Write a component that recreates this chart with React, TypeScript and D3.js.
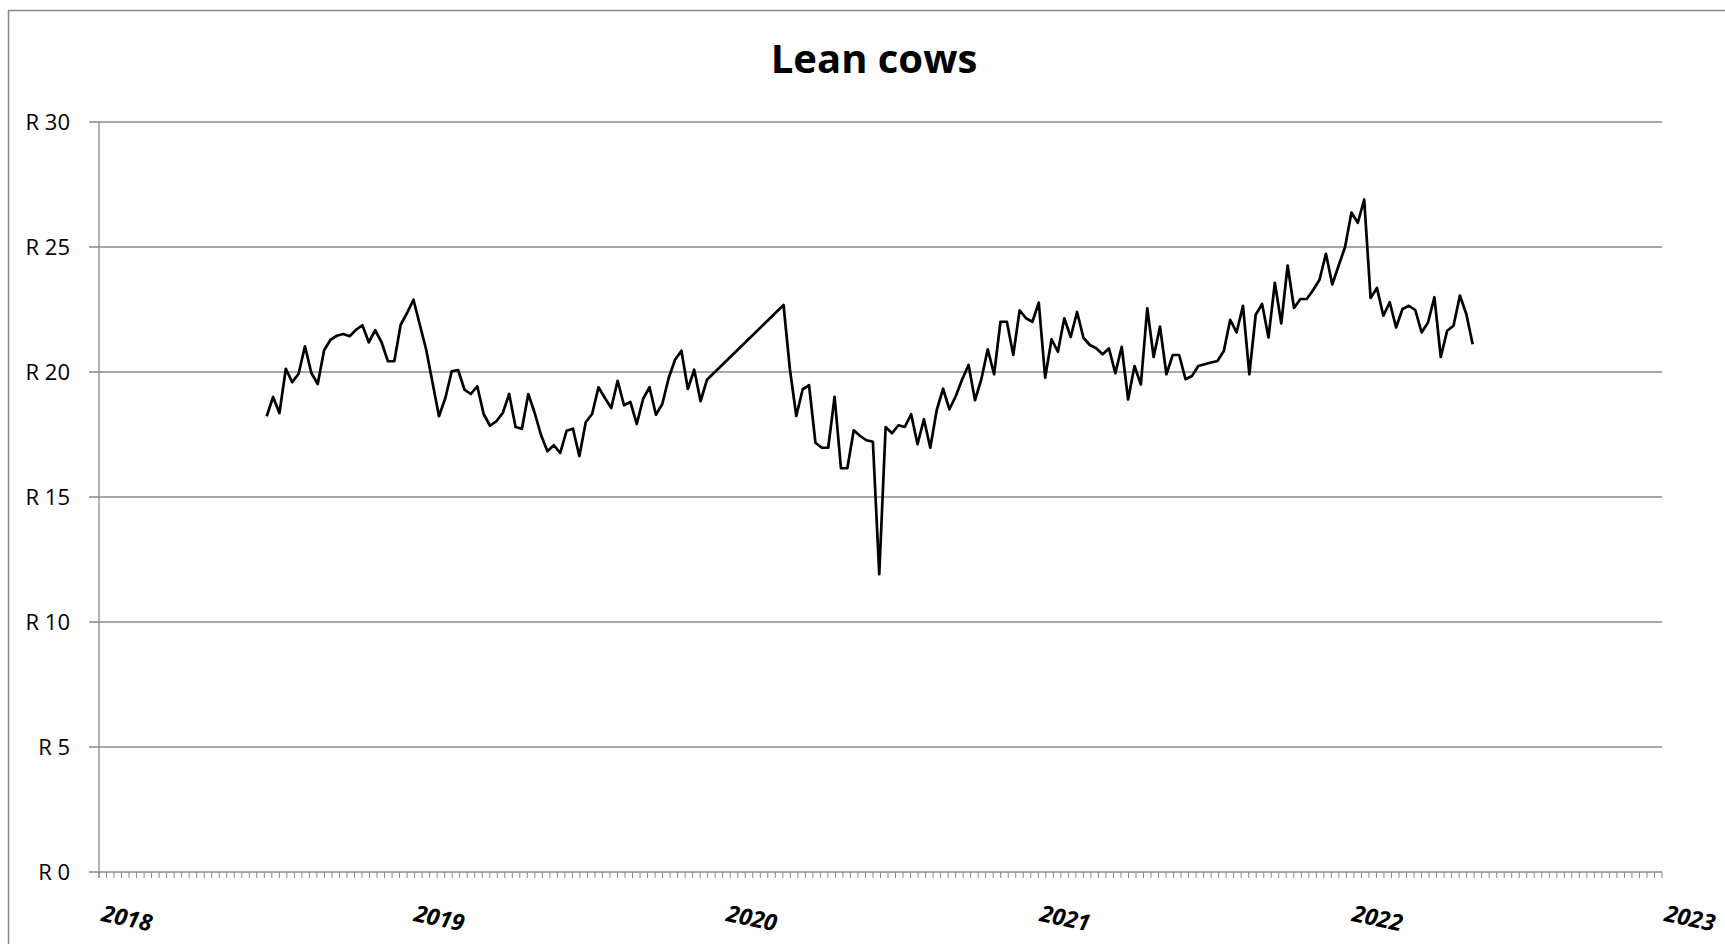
import React, { useRef, useEffect } from 'react';
import * as d3 from 'd3';

// weekly lean cow prices (R/kg)
const chartTitle = 'Lean cows';

const pricesBeforeGap = [
  18.23, 19.0, 18.36, 20.13, 19.59, 19.93, 21.03, 19.96, 19.52, 20.87,
  21.29, 21.45, 21.52, 21.43, 21.69, 21.87, 21.19, 21.67, 21.19, 20.43,
  20.43, 21.89, 22.36, 22.89, 21.89, 20.89, 19.56, 18.23, 18.96, 20.03,
  20.08, 19.29, 19.12, 19.43, 18.32, 17.85, 18.03, 18.36, 19.12, 17.8,
  17.73, 19.12, 18.36, 17.47, 16.83, 17.07, 16.76, 17.65, 17.73, 16.63,
  17.99, 18.32, 19.39, 18.96, 18.56, 19.65, 18.67, 18.8, 17.92, 18.93,
  19.39, 18.29, 18.72, 19.76, 20.49, 20.85, 19.32, 20.09, 18.83, 19.69,
];

// weeks without a quote (the line is joined straight across them)
const missingWeeks = 11;

const pricesAfterGap = [
  22.68, 20.1, 18.24, 19.31, 19.47, 17.17, 16.97, 16.97, 19.01, 16.15,
  16.15, 17.67, 17.44, 17.27, 17.21, 11.91, 17.8, 17.55, 17.87, 17.8,
  18.31, 17.11, 18.11, 16.97, 18.47, 19.33, 18.51, 19.04, 19.71, 20.28,
  18.87, 19.71, 20.91, 19.91, 22.01, 22.01, 20.68, 22.47, 22.15, 22.01,
  22.77, 19.77, 21.31, 20.81, 22.15, 21.4, 22.4, 21.37, 21.08, 20.95,
  20.71, 20.94, 19.95, 21.01, 18.9, 20.24, 19.5, 22.55, 20.6, 21.82,
  19.91, 20.68, 20.68, 19.71, 19.84, 20.24, 20.31, 20.38, 20.44, 20.84,
  22.09, 21.58, 22.65, 19.91, 22.29, 22.72, 21.38, 23.57, 21.94, 24.26,
  22.56, 22.92, 22.92, 23.28, 23.69, 24.73, 23.5, 24.26, 25.0, 26.38,
  25.97, 26.9, 22.96, 23.36, 22.25, 22.79, 21.78, 22.52, 22.65, 22.48,
  21.58, 21.98, 22.99, 20.6, 21.65, 21.85, 23.06, 22.32, 21.11,
];

const priceTicks = [0, 5, 10, 15, 20, 25, 30];

const yearLabels = ['2018', '2019', '2020', '2021', '2022', '2023'];

const minorTickCount = 208;

const WIDTH = 1725;
const HEIGHT = 944;
const FONT = "'Open Sans', 'Liberation Sans', sans-serif";
const GREY = '#8a8a8a';

export default function App() {
  const svgRef = useRef<SVGSVGElement>(null);

  useEffect(() => {
    const svg = d3.select(svgRef.current);
    svg.selectAll('*').remove();

    const plot = { left: 99, right: 1662, top: 122, bottom: 872 };

    // date axis: start of 2018 to start of 2023
    const dateX = d3.scaleTime()
      .domain([new Date(2018, 0, 1), new Date(2023, 0, 1)])
      .range([plot.left, plot.right]);

    // quotes, counted in weeks from the first one
    const x = d3.scaleLinear()
      .domain([-26.28, 218.67])
      .range([plot.left, plot.right]);

    const y = d3.scaleLinear()
      .domain([0, 30])
      .range([plot.bottom, plot.top]);

    const tickX = d3.scaleLinear()
      .domain([0, minorTickCount])
      .range([plot.left, plot.right]);

    const points = [
      ...pricesBeforeGap.map((p, i) => ({ week: i, price: p })),
      ...pricesAfterGap.map((p, i) => ({
        week: pricesBeforeGap.length + missingWeeks + i,
        price: p,
      })),
    ];

    // chart area border (runs off the right and bottom of the picture)
    svg.append('rect')
      .attr('x', 8.5)
      .attr('y', 10.5)
      .attr('width', WIDTH)
      .attr('height', HEIGHT)
      .attr('fill', 'white')
      .attr('stroke', GREY)
      .attr('stroke-width', 1.5);

    // title
    svg.append('text')
      .attr('x', 874)
      .attr('y', 73)
      .attr('text-anchor', 'middle')
      .style('font-family', FONT)
      .style('font-size', '40px')
      .style('font-weight', 'bold')
      .text(chartTitle);

    // gridlines + y ticks
    const yTicks = svg.append('g');
    yTicks.selectAll('line.grid')
      .data(priceTicks)
      .enter()
      .append('line')
      .attr('class', 'grid')
      .attr('x1', plot.left - 10)
      .attr('x2', plot.right)
      .attr('y1', d => y(d))
      .attr('y2', d => y(d))
      .attr('stroke', GREY)
      .attr('stroke-width', 1.3);

    yTicks.selectAll('text')
      .data(priceTicks)
      .enter()
      .append('text')
      .attr('x', 70)
      .attr('y', d => y(d))
      .attr('dy', '0.36em')
      .attr('text-anchor', 'end')
      .style('font-family', FONT)
      .style('font-size', '22px')
      .text(d => `R ${d}`);

    // y axis line
    svg.append('line')
      .attr('x1', plot.left)
      .attr('x2', plot.left)
      .attr('y1', plot.top)
      .attr('y2', plot.bottom + 6)
      .attr('stroke', GREY)
      .attr('stroke-width', 1.3);

    // minor ticks on the date axis
    svg.append('g')
      .selectAll('line')
      .data(d3.range(minorTickCount + 1))
      .enter()
      .append('line')
      .attr('x1', d => tickX(d))
      .attr('x2', d => tickX(d))
      .attr('y1', plot.bottom)
      .attr('y2', plot.bottom + 6)
      .attr('stroke', GREY)
      .attr('stroke-width', 1);

    // year labels, tilted, hung just right of each 1 January
    svg.append('g')
      .selectAll('text')
      .data(yearLabels)
      .enter()
      .append('text')
      .attr('transform', d => `translate(${dateX(new Date(+d, 0, 1)) + 28}, 918) rotate(12)`)
      .attr('dy', '0.36em')
      .attr('text-anchor', 'middle')
      .style('font-family', FONT)
      .style('font-size', '23px')
      .style('font-weight', 'bold')
      .style('font-style', 'italic')
      .text(d => d);

    // price line
    const line = d3.line<{ week: number; price: number }>()
      .x(d => x(d.week))
      .y(d => y(d.price));

    svg.append('path')
      .datum(points)
      .attr('d', line)
      .attr('fill', 'none')
      .attr('stroke', '#000')
      .attr('stroke-width', 2.7)
      .attr('stroke-linejoin', 'round');
  }, []);

  return (
    <svg
      ref={svgRef}
      width={WIDTH}
      height={HEIGHT}
      style={{ position: 'absolute', left: 0, top: 0, background: '#fff' }}
    />
  );
}
